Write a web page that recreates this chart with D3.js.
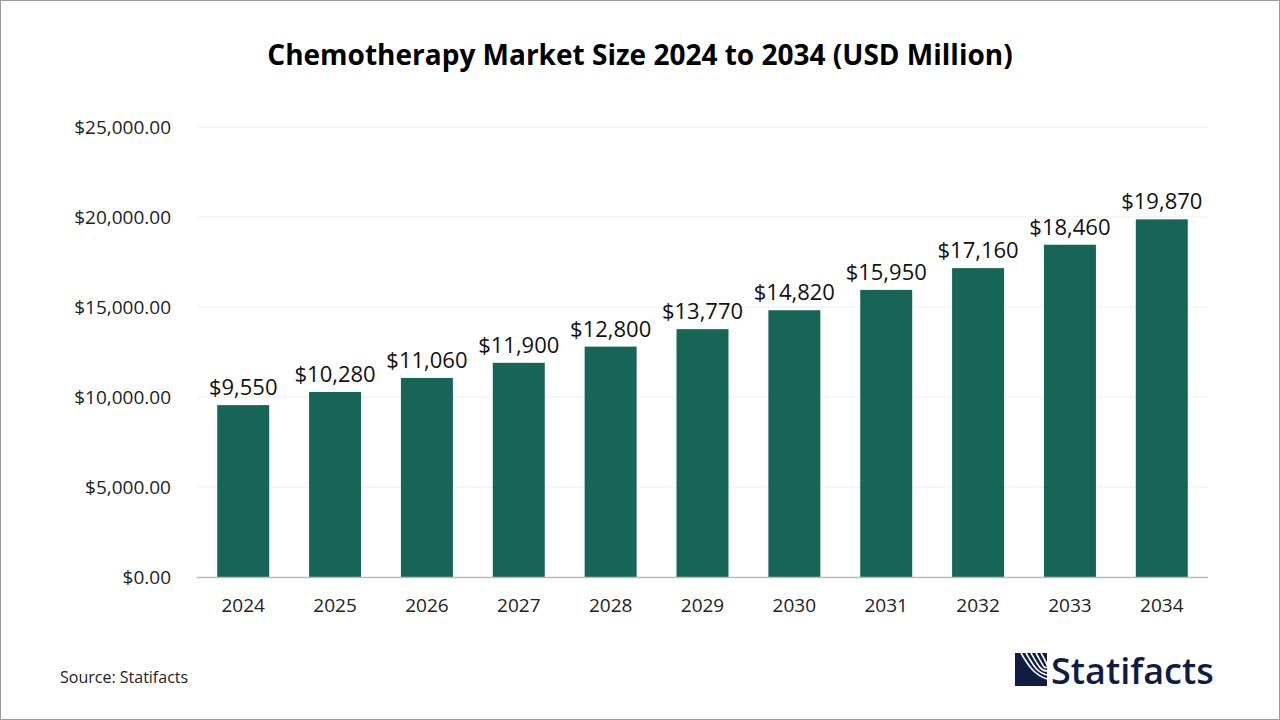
<!DOCTYPE html>
<html><head><meta charset="utf-8">
<script src="https://cdn.jsdelivr.net/npm/d3@7"></script>
<style>body{margin:0;background:#fff}svg{display:block;font-family:"Open Sans",Roboto,sans-serif}</style>
</head><body><svg id="c" width="1280" height="720"></svg>
<script>
const years = ["2024","2025","2026","2027","2028","2029","2030","2031","2032","2033","2034"];
const values = [9550,10280,11060,11900,12800,13770,14820,15950,17160,18460,19870];
const ticks = [0,5000,10000,15000,20000,25000];

const svg = d3.select("#c");
svg.append("rect").attr("x",0.5).attr("y",0.5).attr("width",1279).attr("height",719).attr("fill","#fff").attr("stroke","#9a9a9a");
svg.append("text").attr("x",640).attr("y",65).attr("text-anchor","middle").attr("font-size",28).attr("font-weight","bold").attr("fill","#000").text("Chemotherapy Market Size 2024 to 2034 (USD Million)");

const x = d3.scaleBand().domain(years).range([197,1208]).paddingInner(0.434).paddingOuter(0.22);
const y = d3.scaleLinear().domain([0,25000]).range([577,127]);

svg.append("g").selectAll("line").data(ticks.slice(1)).join("line")
  .attr("x1",197).attr("x2",1208).attr("y1",d=>y(d)).attr("y2",d=>y(d)).attr("stroke","#ececec");
svg.append("g").selectAll("text").data(ticks).join("text")
  .attr("x",171).attr("y",d=>y(d)+7).attr("text-anchor","end").attr("font-size",19).attr("fill","#222")
  .text(d=>"$"+d3.format(",.2f")(d));

svg.append("g").selectAll("rect").data(values).join("rect")
  .attr("x",(d,i)=>x(years[i])).attr("width",x.bandwidth()).attr("y",d=>y(d)).attr("height",d=>y(0)-y(d)).attr("fill","#176557");
svg.append("g").selectAll("text").data(values).join("text")
  .attr("x",(d,i)=>x(years[i])+x.bandwidth()/2).attr("y",d=>y(d)-10).attr("text-anchor","middle").attr("font-size",22).attr("fill","#111")
  .text(d=>"$"+d3.format(",")(d));

svg.append("line").attr("x1",197).attr("x2",1208).attr("y1",577.5).attr("y2",577.5).attr("stroke","#bbb").attr("stroke-width",1.5);
svg.append("g").selectAll("text").data(years).join("text")
  .attr("x",d=>x(d)+x.bandwidth()/2).attr("y",612).attr("text-anchor","middle").attr("font-size",19).attr("fill","#222").text(d=>d);

svg.append("text").attr("x",60).attr("y",683).attr("font-size",16).attr("fill","#222").text("Source: Statifacts");
const lg = svg.append("g").attr("transform","translate(1015,653)");
lg.append("rect").attr("width",32).attr("height",33).attr("fill","#0f1d45");
[0,1,2,3,4].forEach(i=>lg.append("path").attr("d",`M${6+i*5},0 C${14+i*5},14 ${20+i*3},${22-i*2} 32,${26-i*4}`).attr("fill","none").attr("stroke","#fff").attr("stroke-width",1.6));
svg.append("text").attr("x",1051).attr("y",684).attr("font-size",36).attr("font-weight",600).attr("fill","#0f1d45").text("Statifacts");
</script></body></html>
